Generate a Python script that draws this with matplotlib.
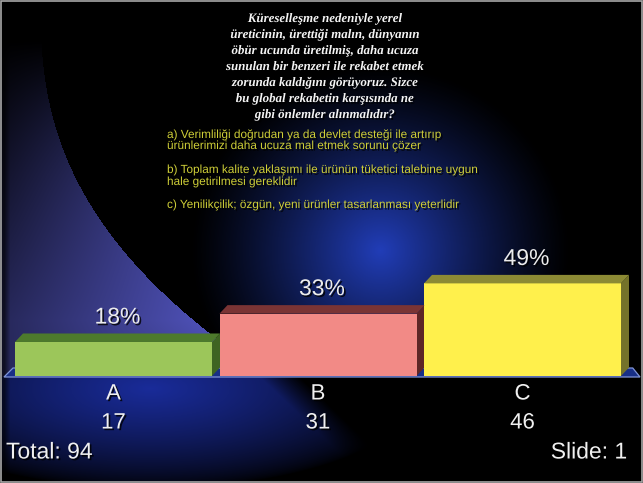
"""
Slide-style 3D bar chart of poll responses (A/B/C) on a dark blue background.
"""
import matplotlib
matplotlib.use('Agg')
import matplotlib.pyplot as plt
import matplotlib.patheffects as pe
import numpy as np
from matplotlib.patches import Polygon, Rectangle

W, H = 643, 483

question = [
    "Küreselleşme nedeniyle yerel",
    "üreticinin, ürettiği malın, dünyanın",
    "öbür ucunda üretilmiş, daha ucuza",
    "sunulan bir benzeri ile rekabet etmek",
    "zorunda kaldığını görüyoruz. Sizce",
    "bu global rekabetin karşısında ne",
    "gibi önlemler alınmalıdır?",
]
options = [
    ["a) Verimliliği doğrudan ya da devlet desteği ile artırıp",
     "ürünlerimizi daha ucuza mal etmek sorunu çözer"],
    ["b) Toplam kalite yaklaşımı ile ürünün tüketici talebine uygun",
     "hale getirilmesi gereklidir"],
    ["c) Yenilikçilik; özgün, yeni ürünler tasarlanması yeterlidir"],
]
categories = ["A", "B", "C"]
counts = [17, 31, 46]
percents = [18, 33, 49]
total = 94

front_colors = ["#9cc65a", "#f28a86", "#fff04c"]
top_colors = ["#4d7a2c", "#7a3434", "#8c8a34"]
side_colors = ["#3e6422", "#5e2626", "#74722a"]

shadow = [pe.withSimplePatchShadow(offset=(1.2, -1.2), shadow_rgbFace="black", alpha=0.8)]


def background():
    yy, xx = np.mgrid[0:H, 0:W].astype(float)
    img = np.zeros((H, W, 3))
    # central blue glow
    d = np.hypot((xx - 380) / 190, (yy - 250) / 185)
    g = np.clip(1 - d, 0, 1) ** 1.2
    img += g[..., None] * np.array([0.13, 0.24, 0.72])
    # left purple swoosh
    edge = 40 + 172 * np.clip(yy / 335.0, 0, 1.2) ** 2.5
    inside = (xx < edge) & (yy < 377)
    vert = np.clip((yy - 40) / 280, 0, 1)
    horiz = np.clip(xx / np.maximum(edge, 1), 0, 1)
    sw = inside * vert * (0.5 + 0.5 * horiz)
    col = np.array([0.30, 0.31, 0.70])
    img = img * (1 - sw[..., None]) + sw[..., None] * col
    # below the floor: blue on the left, dark past a diagonal
    low = yy >= 377
    dl = np.hypot((xx - 150) / 270, (yy - 388) / 100)
    gl = np.clip(1 - dl, 0, 1) ** 0.7
    cut = np.clip(((yy - 377) * 1.05 + 300 - xx) / 40, 0, 1)
    lowimg = (gl * cut)[..., None] * np.array([0.10, 0.17, 0.60])
    img[low] = lowimg[low]
    # dark strip on the far left
    img *= np.clip(xx / 10, 0.4, 1)[..., None]
    return np.clip(img, 0, 1)


fig = plt.figure(figsize=(W / 100, H / 100), dpi=100)
fig.patch.set_facecolor("black")
bg = fig.add_axes([0, 0, 1, 1])
bg.imshow(background(), extent=[0, W, H, 0], aspect="auto", interpolation="bilinear")
bg.set_xlim(0, W)
bg.set_ylim(H, 0)
bg.axis("off")

# question text
for i, line in enumerate(question):
    bg.text(325, 19 + i * 16, line, ha="center", va="center", color="#f4f4f4",
            family="Liberation Serif", style="italic", weight="bold", fontsize=9.3,
            path_effects=shadow)

opt_y = [[135, 146], [170, 182], [205]]
for opt, ys in zip(options, opt_y):
    for line, y in zip(opt, ys):
        bg.text(167, y, line, ha="left", va="center", color="#cfcf38",
                family="Liberation Sans", fontsize=8.5, path_effects=shadow)

# bar axes, pixel box: x 11..625, baseline at y=376, 1.89 px per percent
x0, x1 = 11.25, 624.75
base = 376
ppp = 1.89
pitch = (x1 - x0) / 3

# floor strip
bg.add_patch(Polygon([[4, base + 1], [13, base - 8], [x1 + 8, base - 8], [W - 3, base + 1]],
                     closed=True, facecolor="#182f86", edgecolor="#8095d8", lw=0.9, zorder=2))

ax = fig.add_axes([x0 / W, (H - base) / H, (x1 - x0) / W, 100 * ppp / H])
ax.set_xlim(-0.5, 2.5)
ax.set_ylim(0, 100)
ax.axis("off")
ax.patch.set_alpha(0)

xpos = np.arange(len(categories))
width = 197 / pitch
dx = 8 / pitch
dy = 8.5 / ppp
bars = ax.bar(xpos, percents, width=width, color=front_colors, zorder=3, clip_on=False)
for b, tc, sc in zip(bars, top_colors, side_colors):
    l, r, h = b.get_x(), b.get_x() + b.get_width(), b.get_height()
    ax.add_patch(Polygon([[l, h], [l + dx, h + dy], [r + dx, h + dy], [r, h]],
                         facecolor=tc, edgecolor="none", zorder=3, clip_on=False))
    ax.add_patch(Polygon([[r, 0], [r, h], [r + dx, h + dy], [r + dx, dy]],
                         facecolor=sc, edgecolor="none", zorder=2, clip_on=False))
    ax.text(b.get_x() + b.get_width() / 2 + dx / 2, h + dy + 2.6, f"{h:.0f}%",
            ha="center", va="bottom", color="#ececec", family="Liberation Sans",
            fontsize=16.5, zorder=4, path_effects=shadow)

# category and count labels below the floor
for xp, cat, cnt in zip(xpos, categories, counts):
    cx = x0 + (xp + 0.5) * pitch
    bg.text(cx, 394, cat, ha="center", va="center", color="#f0f0f0",
            family="Liberation Sans", fontsize=16, path_effects=shadow)
    bg.text(cx, 423, str(cnt), ha="center", va="center", color="#f0f0f0",
            family="Liberation Sans", fontsize=16, path_effects=shadow)

bg.text(6, 452, f"Total: {total}", ha="left", va="center", color="#f0f0f0",
        family="Liberation Sans", fontsize=16.5, path_effects=shadow)
bg.text(627, 452, "Slide: 1", ha="right", va="center", color="#f0f0f0",
        family="Liberation Sans", fontsize=16.5, path_effects=shadow)

# thin light frame around the slide
bg.add_patch(Rectangle((0.5, 0.5), W - 1.5, H - 1.5, fill=False, edgecolor="#a8a8a8", lw=1.2))

plt.savefig("out.png", dpi=100, facecolor="black")
plt.close()
